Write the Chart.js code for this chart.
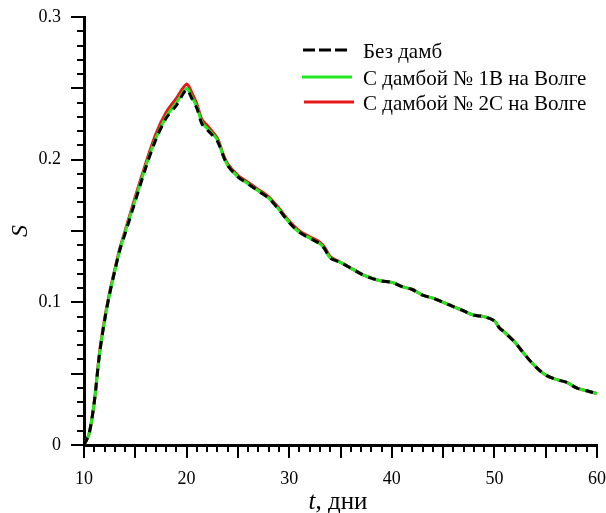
<!DOCTYPE html>
<html>
<head>
<meta charset="utf-8">
<script src="https://cdn.jsdelivr.net/npm/chart.js@4/dist/chart.umd.min.js"></script>
<style>
  html, body { margin: 0; padding: 0; background: #fff; }
  #wrap { position: relative; width: 606px; height: 513px; }
</style>
</head>
<body>
<div id="wrap"><canvas id="myChart" width="606" height="513"></canvas></div>
<script>
// time in days
const tDays = [10, 10.5, 11, 11.5, 12, 12.5, 13, 13.5, 14, 15, 16, 17, 18, 19, 20, 20.5, 21, 21.5, 22, 23, 23.5, 24, 25, 26, 27, 28, 29, 30,
  31, 32, 33, 33.5, 34, 35, 36, 37, 38, 39, 40, 41, 42, 43, 44, 45, 46, 47, 48, 49, 50, 50.5, 51, 52, 53, 54, 55, 56, 57, 58, 59, 60];

const sNoDam = [0, 0.008, 0.03, 0.063, 0.087, 0.106, 0.122, 0.137, 0.148, 0.171, 0.194, 0.214, 0.229, 0.238, 0.249, 0.243, 0.236, 0.225, 0.221, 0.213, 0.204, 0.196, 0.188, 0.183, 0.178, 0.173, 0.165, 0.156,
  0.149, 0.145, 0.141, 0.137, 0.131, 0.128, 0.124, 0.120, 0.117, 0.115, 0.114, 0.111, 0.109, 0.105, 0.103, 0.100, 0.097, 0.094, 0.091, 0.090, 0.087, 0.082, 0.079, 0.072, 0.063, 0.055, 0.049, 0.046, 0.044, 0.040, 0.038, 0.036];

const sDam1B = [0, 0.008, 0.03, 0.063, 0.087, 0.106, 0.122, 0.137, 0.149, 0.172, 0.195, 0.215, 0.230, 0.240, 0.250, 0.244, 0.237, 0.226, 0.222, 0.214, 0.204, 0.196, 0.188, 0.183, 0.178, 0.173, 0.165, 0.156,
  0.149, 0.145, 0.141, 0.137, 0.131, 0.128, 0.124, 0.120, 0.117, 0.115, 0.114, 0.111, 0.109, 0.105, 0.103, 0.100, 0.097, 0.094, 0.091, 0.090, 0.087, 0.082, 0.079, 0.072, 0.063, 0.055, 0.049, 0.046, 0.044, 0.040, 0.038, 0.036];

const sDam2C = [0, 0.008, 0.03, 0.064, 0.088, 0.107, 0.123, 0.138, 0.150, 0.174, 0.197, 0.218, 0.233, 0.243, 0.253, 0.247, 0.239, 0.228, 0.224, 0.215, 0.205, 0.197, 0.189, 0.184, 0.179, 0.174, 0.166, 0.157,
  0.150, 0.146, 0.142, 0.138, 0.132, 0.128, 0.124, 0.120, 0.117, 0.115, 0.114, 0.111, 0.109, 0.105, 0.103, 0.100, 0.097, 0.094, 0.091, 0.090, 0.087, 0.082, 0.079, 0.072, 0.063, 0.055, 0.049, 0.046, 0.044, 0.040, 0.038, 0.036];

const seriesNames = ['Без дамб', 'С дамбой № 1В на Волге', 'С дамбой № 2С на Волге'];
const xTickLabels = [10, 20, 30, 40, 50, 60];
const yTickLabels = [0, 0.1, 0.2, 0.3];

const serif = "'Liberation Serif', 'Times New Roman', serif";

function toPoints(ys) {
  return tDays.map((t, i) => ({ x: t, y: ys[i] }));
}

//draws short minor ticks, the legend and the axis titles
const extras = {
  id: 'extras',
  afterDraw(chart) {
    const ctx = chart.ctx;
    const xs = chart.scales.x, ys = chart.scales.y;
    const area = chart.chartArea;
    ctx.save();
    ctx.strokeStyle = '#000';
    ctx.lineWidth = 2;
    ctx.beginPath();
    for (let v = 10; v <= 60; v++) {
      if (v % 5 === 0) continue;
      const px = Math.round(xs.getPixelForValue(v));
      ctx.moveTo(px, area.bottom);
      ctx.lineTo(px, area.bottom + 7);
    }
    for (let k = 0; k <= 30; k++) {
      if (k % 5 === 0) continue;
      const py = Math.round(ys.getPixelForValue(k / 100));
      ctx.moveTo(area.left, py);
      ctx.lineTo(area.left - 7, py);
    }
    ctx.stroke();

    // legend
    const rows = [
      { y: 50, x0: 303, x1: 347, color: '#000', dash: [12, 4] },
      { y: 77, x0: 302, x1: 352, color: '#22e822', dash: [] },
      { y: 102, x0: 304, x1: 354, color: '#e81818', dash: [] }
    ];
    ctx.font = '21px ' + serif;
    ctx.textBaseline = 'middle';
    ctx.fillStyle = '#000';
    rows.forEach((r, i) => {
      ctx.beginPath();
      ctx.setLineDash(r.dash);
      ctx.strokeStyle = r.color;
      ctx.lineWidth = 3;
      ctx.moveTo(r.x0, r.y);
      ctx.lineTo(r.x1, r.y);
      ctx.stroke();
      ctx.setLineDash([]);
      ctx.fillText(seriesNames[i], 363, r.y + 2);
    });

    // x title: italic t + regular text
    const cx = 338, cy = 502;
    ctx.font = 'italic 25px ' + serif;
    const w1 = ctx.measureText('t').width;
    ctx.font = '25px ' + serif;
    const w2 = ctx.measureText(', дни').width;
    let sx = cx - (w1 + w2) / 2;
    ctx.font = 'italic 25px ' + serif;
    ctx.fillText('t', sx, cy);
    ctx.font = '25px ' + serif;
    ctx.fillText(', дни', sx + w1, cy);

    // y title
    ctx.translate(21, 231);
    ctx.rotate(-Math.PI / 2);
    ctx.textAlign = 'center';
    ctx.font = 'italic 24px ' + serif;
    ctx.fillText('S', 0, 0);
    ctx.restore();
  }
};

let chartEl = document.getElementById('myChart').getContext('2d');

let sChart = new Chart(chartEl, {
  type: 'line',
  data: {
    datasets: [{
      label: seriesNames[0],
      data: toPoints(sNoDam),
      borderColor: '#000',
      borderWidth: 3,
      borderDash: [8, 6],
      pointRadius: 0,
      tension: 0.3
    }, {
      label: seriesNames[1],
      data: toPoints(sDam1B),
      borderColor: '#22e822',
      borderWidth: 3,
      pointRadius: 0,
      tension: 0.3
    }, {
      label: seriesNames[2],
      data: toPoints(sDam2C),
      borderColor: '#e81818',
      borderWidth: 3,
      pointRadius: 0,
      tension: 0.3
    }]
  },
  options: {
    responsive: false,
    animation: false,
    layout: { padding: { top: 17, right: 9, left: 0, bottom: 0 } },
    plugins: {
      legend: { display: false },
      tooltip: { enabled: false }
    },
    scales: {
      x: {
        type: 'linear',
        min: 10,
        max: 60,
        afterFit(scale) {
          scale.height = 68;
          scale.paddingLeft = 0;
          scale.paddingRight = 0;
        },
        border: { color: '#000', width: 3 },
        grid: { drawOnChartArea: false, color: '#000', lineWidth: 2, tickLength: 13 },
        ticks: {
          stepSize: 5,
          maxRotation: 0,
          autoSkip: false,
          padding: 10,
          color: '#000',
          font: { family: serif, size: 18 },
          callback: v => xTickLabels.includes(v) ? String(v) : ''
        }
      },
      y: {
        min: 0,
        max: 0.3,
        afterFit(scale) {
          scale.width = 84;
          scale.paddingTop = 0;
          scale.paddingBottom = 0;
        },
        border: { color: '#000', width: 3 },
        grid: { drawOnChartArea: false, color: '#000', lineWidth: 2, tickLength: 13 },
        ticks: {
          stepSize: 0.05,
          autoSkip: false,
          padding: 10,
          color: '#000',
          font: { family: serif, size: 18 },
          callback: v => {
            const r = Math.round(v * 100) / 100;
            return yTickLabels.includes(r) ? String(r) : '';
          }
        }
      }
    }
  },
  plugins: [extras]
});
</script>
</body>
</html>
